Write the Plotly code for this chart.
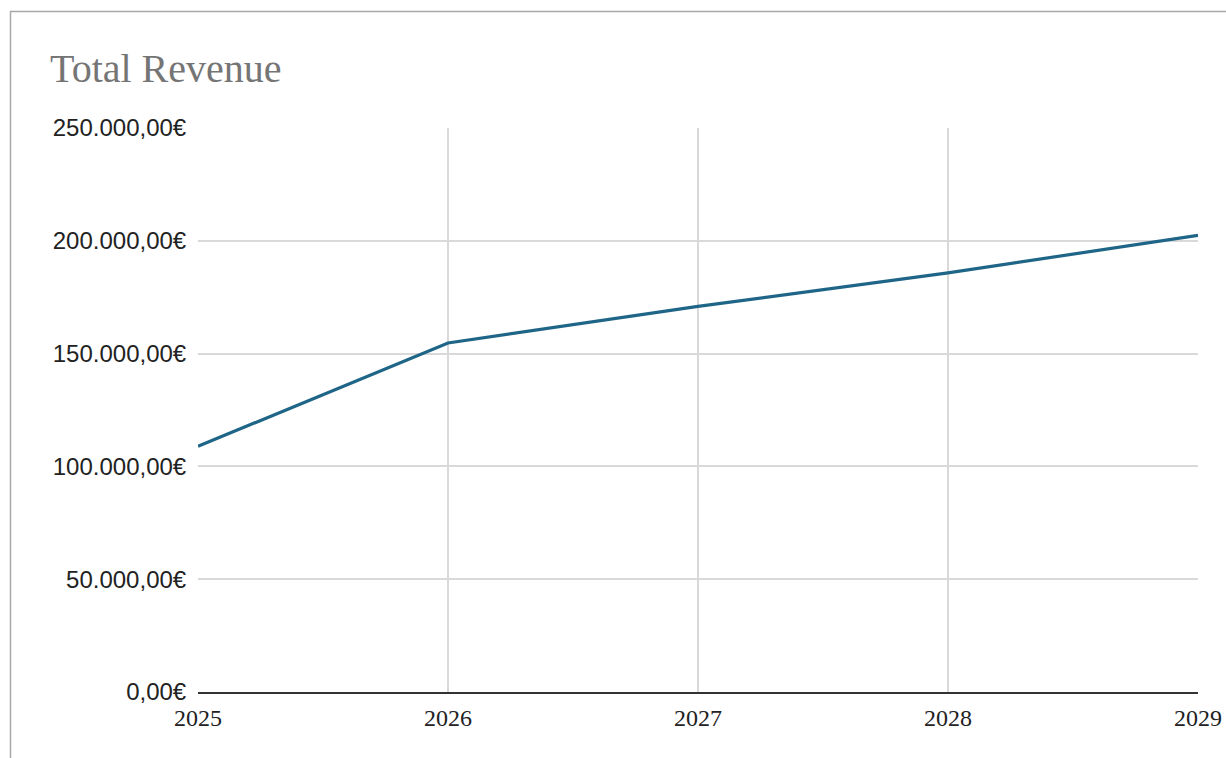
import plotly.graph_objects as go

years = [2025, 2026, 2027, 2028, 2029]
revenue = [108900, 154700, 170900, 185800, 202400]
y_ticks = [0, 50000, 100000, 150000, 200000, 250000]


def euro(v):
    s = f"{v:,.2f}"
    s = s.replace(",", "X").replace(".", ",").replace("X", ".")
    return s + "€"


y_labels = [euro(v) for v in y_ticks]

W, H = 1226, 758
L, R, T, B = 198, 28, 128, 66
pw, ph = W - L - R, H - T - B

fig = go.Figure()
fig.add_trace(go.Scatter(
    x=years, y=revenue, mode="lines",
    line=dict(color="#1f6587", width=3.2),
    showlegend=False, cliponaxis=False,
))


def px_x(p):
    return (p - L) / pw


def px_y(p):
    return (H - B - p) / ph


fig.update_layout(
    width=W, height=H,
    margin=dict(l=L, r=R, t=T, b=B, autoexpand=False),
    paper_bgcolor="white", plot_bgcolor="white",
    showlegend=False,
    title=dict(
        text="Total Revenue",
        font=dict(family="Liberation Serif", size=40, color="#757575"),
        x=50 / W, xanchor="left", xref="container",
        y=1 - 68 / H, yanchor="middle", yref="container",
    ),
    xaxis=dict(
        range=[2025, 2029], tickvals=years, ticktext=[str(y) for y in years],
        showgrid=True, gridcolor="#d9d9d9", gridwidth=2,
        zeroline=False, showline=True, linecolor="#333333", linewidth=2,
        ticks="outside", ticklen=3, tickcolor="rgba(0,0,0,0)",
        tickfont=dict(family="Liberation Serif", size=24, color="#222222"),
        fixedrange=True, automargin=False,
    ),
    yaxis=dict(
        range=[0, 250000], tickvals=y_ticks, ticktext=y_labels,
        showgrid=True, gridcolor="#d9d9d9", gridwidth=2,
        zeroline=False, showline=False,
        ticks="outside", ticklen=6, tickcolor="rgba(0,0,0,0)",
        tickfont=dict(family="Liberation Sans", size=24, color="#222222"),
        fixedrange=True, automargin=False,
    ),
    shapes=[dict(
        type="rect", xref="paper", yref="paper",
        x0=px_x(10.5), x1=px_x(W + 20), y0=px_y(H + 20), y1=px_y(11.5),
        line=dict(color="#a8a8a8", width=1.5), fillcolor="rgba(0,0,0,0)",
        layer="below",
    )],
)

fig.write_html("out.html")
